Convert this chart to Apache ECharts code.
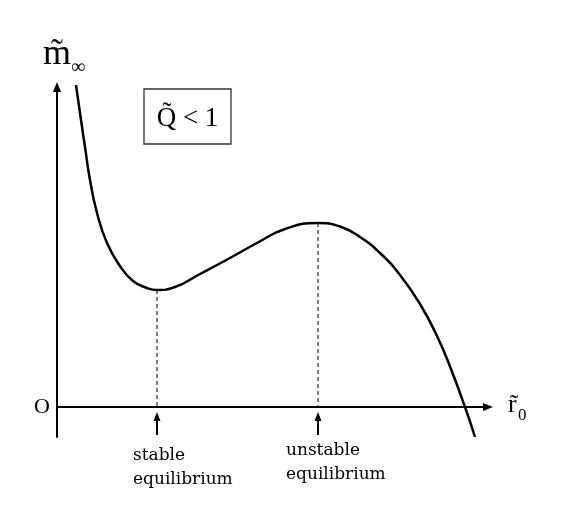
<!DOCTYPE html>
<html>
<head>
<meta charset="utf-8">
<script src="https://cdn.jsdelivr.net/npm/echarts@6/dist/echarts.min.js"></script>
<style>
  html, body { margin: 0; padding: 0; background: #fff; }
  #chart { width: 567px; height: 520px; }
</style>
</head>
<body>
<div id="chart"></div>
<script>
// curve (r0 along x, m_inf along y)
const curveX = [0.38, 0.46, 0.56, 0.66, 0.80, 1.00, 1.26, 1.52, 1.80, 2.00, 2.36, 2.86, 3.46, 4.00, 4.56, 5.22, 5.66, 6.06, 6.46, 6.86, 7.26, 7.60, 7.86, 8.16, 8.36]
const curveY = [12.88, 11.76, 10.40, 9.08, 7.76, 6.56, 5.64, 5.04, 4.76, 4.68, 4.80, 5.32, 5.96, 6.56, 7.12, 7.36, 7.22, 6.80, 6.16, 5.28, 4.12, 2.84, 1.62, 0, -1.20]

// stable (min) and unstable (max) equilibrium points
const equilibriumX = [2.00, 5.22]
const equilibriumY = [4.68, 7.36]
const equilibriumNames = ['stable\nequilibrium', 'unstable\nequilibrium']

// little arrows under the x axis
const arrowFromY = -1.12
const arrowToY = -0.38

const serif = '"Liberation Serif", "DejaVu Serif", serif'
const labelFont = '"DejaVu Serif", serif'

const chart = echarts.init(document.getElementById('chart'))

const axisLine = {
  show: true,
  onZero: true,
  symbol: ['none', 'triangle'],
  symbolSize: [8, 10],
  lineStyle: { color: '#000', width: 2 }
}

const guideSeries = equilibriumX.map((x, i) => ({
  type: 'line',
  data: [[x, equilibriumY[i]], [x, 0]],
  showSymbol: false,
  silent: true,
  lineStyle: { color: '#000', width: 1, type: [4, 3] },
  markLine: {
    silent: true,
    symbol: ['none', 'triangle'],
    symbolSize: [7, 9],
    label: { show: false },
    lineStyle: { color: '#000', width: 2, type: 'solid' },
    data: [[{ coord: [x, arrowFromY] }, { coord: [x, arrowToY] }]]
  }
}))

const labelTexts = []
equilibriumNames.forEach((name, i) => {
  const lines = name.split('\n')
  const left = i === 0 ? 133 : 286
  const top = i === 0 ? 456 : 451
  lines.forEach((line, j) => {
    labelTexts.push({
      type: 'text',
      style: {
        text: line, x: left, y: top + j * 24,
        font: '17px ' + labelFont, fill: '#000',
        textAlign: 'left', textVerticalAlign: 'middle'
      }
    })
  })
})

chart.setOption({
  animation: false,
  grid: { left: 57, right: 79, top: 87, bottom: 83, containLabel: false },
  xAxis: {
    type: 'value',
    min: 0,
    max: 8.62,
    axisLine: axisLine,
    axisTick: { show: false },
    axisLabel: { show: false },
    splitLine: { show: false }
  },
  yAxis: {
    type: 'value',
    min: -1.2,
    max: 12.8,
    axisLine: axisLine,
    axisTick: { show: false },
    axisLabel: { show: false },
    splitLine: { show: false }
  },
  series: [{
    type: 'line',
    data: curveX.map((x, i) => [x, curveY[i]]),
    smooth: 0.5,
    showSymbol: false,
    clip: false,
    silent: true,
    lineStyle: { color: '#000', width: 2.5 }
  }].concat(guideSeries),
  graphic: [
    { type: 'text', style: { text: 'm\u0303', x: 43, y: 55, font: '36px ' + serif, fill: '#000', textVerticalAlign: 'middle' } },
    { type: 'text', style: { text: '\u221e', x: 71, y: 68, font: '20px ' + serif, fill: '#000', textVerticalAlign: 'middle' } },
    { type: 'rect', shape: { x: 144, y: 89, width: 87, height: 55 }, style: { fill: 'none', stroke: '#333', lineWidth: 1.3 } },
    { type: 'text', style: { text: 'Q\u0303 < 1', x: 187.5, y: 119, font: '27px ' + serif, fill: '#000', textAlign: 'center', textVerticalAlign: 'middle' } },
    { type: 'text', style: { text: 'O', x: 42, y: 407, font: '22px ' + serif, fill: '#000', textAlign: 'center', textVerticalAlign: 'middle' } },
    { type: 'text', style: { text: 'r\u0303', x: 508, y: 405, font: '26px ' + serif, fill: '#000', textVerticalAlign: 'middle' } },
    { type: 'text', style: { text: '0', x: 518, y: 416, font: '17px ' + serif, fill: '#000', textVerticalAlign: 'middle' } }
  ].concat(labelTexts)
})
</script>
</body>
</html>
